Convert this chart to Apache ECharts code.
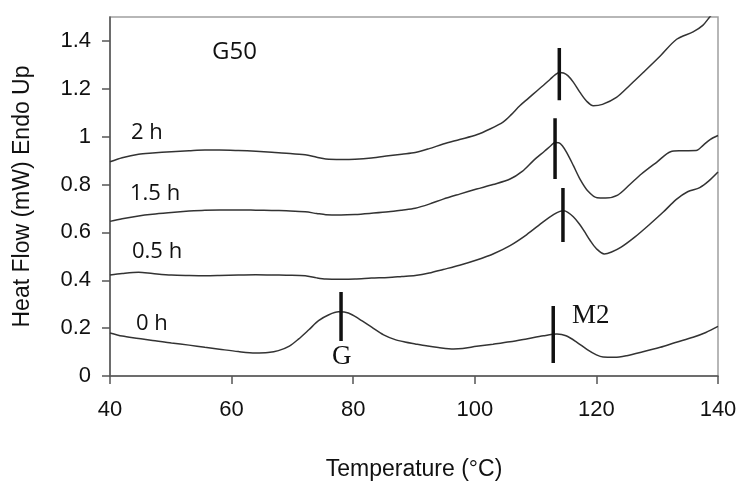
<!DOCTYPE html>
<html>
<head>
<meta charset="utf-8">
<script src="https://cdn.jsdelivr.net/npm/echarts@6/dist/echarts.min.js"></script>
<style>
html,body{margin:0;padding:0;background:#fff;}
#chart{width:741px;height:486px;}
</style>
</head>
<body>
<div id="chart"></div>
<script>
// ---- data ----
const xTicks = [40, 60, 80, 100, 120, 140];
const yTicks = [0, 0.2, 0.4, 0.6, 0.8, 1, 1.2, 1.4];

const curve2h = [[40,0.895],[42,0.912],[44.7,0.927],[47,0.932],[50.1,0.937],[53,0.941],[55.6,0.944],[58,0.944],[61.1,0.942],[64,0.939],[66.6,0.935],[69,0.931],[72.1,0.924],[74,0.914],[75.5,0.907],[78,0.905],[80.3,0.906],[83,0.911],[85.8,0.920],[88,0.927],[90.2,0.934],[92.5,0.950],[94.8,0.969],[97.5,0.988],[100.3,1.008],[102.5,1.032],[104.7,1.062],[106,1.092],[107.4,1.129],[108.8,1.160],[110.2,1.191],[111.3,1.215],[112.4,1.240],[113.2,1.258],[113.9,1.268],[114.6,1.266],[115.3,1.255],[116.2,1.228],[117.3,1.185],[118.4,1.148],[119.5,1.129],[121,1.135],[123.3,1.164],[125.5,1.215],[127.7,1.268],[130.5,1.337],[133.2,1.407],[135.9,1.438],[137.5,1.465],[138.7,1.502],[140,1.54]];

const curve15h = [[40,0.646],[42,0.657],[44.7,0.669],[47,0.676],[50.1,0.683],[53,0.689],[55.6,0.693],[58,0.694],[61.1,0.694],[64,0.693],[66.6,0.692],[69,0.690],[72.1,0.686],[74,0.679],[75.5,0.674],[78,0.673],[80.3,0.675],[83,0.680],[85.8,0.686],[88,0.693],[90.2,0.701],[92.5,0.718],[94.8,0.739],[97.5,0.760],[100.3,0.781],[103,0.800],[105.8,0.823],[107.8,0.855],[109.6,0.899],[111.5,0.940],[112.5,0.962],[113.2,0.976],[113.8,0.975],[114.4,0.962],[115.1,0.934],[116.2,0.880],[117.3,0.823],[118.6,0.773],[120.1,0.745],[121.5,0.744],[123.5,0.756],[125.5,0.800],[127.4,0.844],[130,0.895],[132.2,0.937],[134,0.941],[136.4,0.942],[137.6,0.965],[138.7,0.988],[140,1.005]];

const curve05h = [[40,0.422],[42,0.428],[44.7,0.433],[47,0.428],[50.1,0.422],[53,0.420],[55.6,0.419],[58,0.420],[61.1,0.422],[64,0.423],[66.6,0.422],[69,0.421],[72.1,0.419],[74,0.410],[75.5,0.405],[78,0.404],[80.3,0.405],[83,0.409],[85.8,0.412],[88,0.416],[90.2,0.420],[92.5,0.430],[94.8,0.445],[97.5,0.463],[100.3,0.485],[103,0.510],[105.8,0.545],[108.5,0.590],[111.3,0.645],[113,0.675],[114,0.688],[114.6,0.690],[115.3,0.684],[116.2,0.665],[117.2,0.635],[118,0.605],[119,0.565],[120,0.532],[121.3,0.510],[122.5,0.518],[124,0.537],[126.3,0.580],[128.6,0.630],[131,0.685],[133.1,0.737],[135,0.770],[137,0.787],[138.5,0.815],[140,0.852]];

const curve0h = [[40,0.180],[42,0.167],[44.7,0.157],[47,0.148],[50.1,0.138],[53,0.129],[55.6,0.120],[58,0.112],[61.1,0.102],[63.9,0.096],[66,0.098],[67.7,0.106],[69.5,0.125],[71,0.154],[72.7,0.193],[74.3,0.231],[76,0.256],[77.6,0.268],[79.2,0.263],[81,0.238],[83.1,0.203],[85,0.172],[86.9,0.152],[88.5,0.142],[90.2,0.134],[92,0.126],[94,0.119],[96.5,0.113],[98,0.115],[100.3,0.124],[103,0.133],[105.8,0.143],[108.5,0.155],[111.3,0.168],[113.5,0.175],[115,0.168],[116.8,0.141],[118.5,0.110],[120,0.088],[121.1,0.079],[123,0.078],[125,0.085],[127.5,0.100],[130.5,0.120],[133,0.140],[135.9,0.162],[138,0.182],[140,0.207]];

// vertical peak markers: [temperature, low, high]
const markers = [
  [113.9, 1.152, 1.370],
  [113.2, 0.823, 1.077],
  [114.5, 0.560, 0.785],
  [78.0, 0.146, 0.351],
  [112.9, 0.054, 0.292]
];

const curveNames = ['2 h', '1.5 h', '0.5 h', '0 h'];
const curves = [curve2h, curve15h, curve05h, curve0h];

// ---- chart ----
const chart = echarts.init(document.getElementById('chart'), null, {renderer: 'canvas'});

const series = curves.map((c, i) => ({
  name: curveNames[i],
  type: 'line',
  data: c,
  smooth: 0.3,
  symbol: 'none',
  clip: true,
  lineStyle: {color: '#333', width: 1.5},
  z: 2
}));
markers.forEach((m, i) => {
  series.push({
    name: 'marker' + i,
    type: 'line',
    data: [[m[0], m[1]], [m[0], m[2]]],
    symbol: 'none',
    lineStyle: {color: '#111', width: 3.5},
    z: 3
  });
});

const labelFont = '"Open Sans", "Liberation Sans", sans-serif';
const serifFont = '"Liberation Serif", "DejaVu Serif", serif';

chart.setOption({
  animation: false,
  backgroundColor: '#fff',
  grid: {left: 110, right: 23, top: 17, bottom: 109, show: true, borderColor: '#a0a0a0', borderWidth: 1.5},
  xAxis: {
    type: 'value', min: 40, max: 140, interval: 20,
    name: 'Temperature (°C)', nameLocation: 'middle', nameGap: 82,
    nameTextStyle: {fontFamily: 'Liberation Sans', fontSize: 23, color: '#111'},
    axisLine: {show: true, lineStyle: {color: '#555', width: 1.5}},
    axisTick: {show: true, length: 8, lineStyle: {color: '#555', width: 1.5}, customValues: xTicks},
    axisLabel: {fontFamily: 'Liberation Sans', fontSize: 22, color: '#111', margin: 23, customValues: xTicks},
    splitLine: {show: false}
  },
  yAxis: {
    type: 'value', min: 0, max: 1.5, interval: 0.2,
    name: 'Heat Flow (mW) Endo Up', nameLocation: 'middle', nameGap: 76,
    nameTextStyle: {fontFamily: 'Liberation Sans', fontSize: 23, color: '#111'},
    axisLine: {show: true, lineStyle: {color: '#555', width: 1.5}},
    axisTick: {show: true, length: 8, lineStyle: {color: '#555', width: 1.5}, customValues: yTicks},
    axisLabel: {fontFamily: 'Liberation Sans', fontSize: 22, color: '#111', margin: 19, customValues: yTicks},
    splitLine: {show: false}
  },
  graphic: [
    {type: 'text', left: 212, top: 40, style: {text: 'G50', font: '24px ' + labelFont, fill: '#111'}},
    {type: 'text', left: 131, top: 122, style: {text: '2 h', font: '22px ' + labelFont, fill: '#111'}},
    {type: 'text', left: 130, top: 183, style: {text: '1.5 h', font: '22px ' + labelFont, fill: '#111'}},
    {type: 'text', left: 132, top: 241, style: {text: '0.5 h', font: '22px ' + labelFont, fill: '#111'}},
    {type: 'text', left: 136, top: 313, style: {text: '0 h', font: '22px ' + labelFont, fill: '#111'}},
    {type: 'text', left: 332, top: 343, style: {text: 'G', font: '27px ' + serifFont, fill: '#111'}},
    {type: 'text', left: 572, top: 302, style: {text: 'M2', font: '27px ' + serifFont, fill: '#111'}}
  ],
  series: series
});
</script>
</body>
</html>
